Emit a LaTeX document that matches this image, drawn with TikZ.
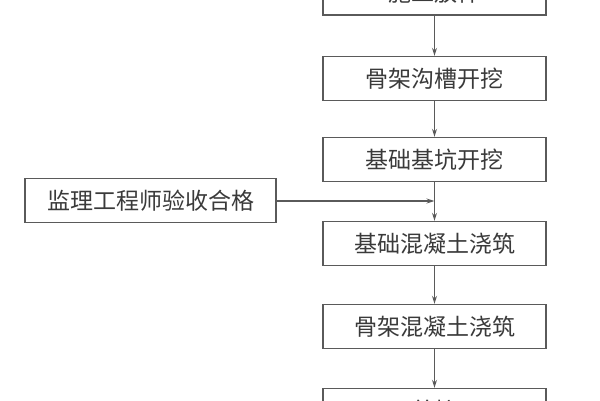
\documentclass[tikz,border=0pt]{standalone}
\usepackage{fontspec}
\newfontfamily\cjk{Noto Sans CJK SC}
\usetikzlibrary{arrows.meta}
\definecolor{linegray}{HTML}{5A5A5A}
\definecolor{textgray}{HTML}{3A3A3A}
\tikzset{
  stepbox/.style={draw=linegray, line width=1.4pt, fill=white, minimum width=223pt, minimum height=44pt, inner sep=0pt, font=\cjk\fontsize{23}{26}\selectfont, text=textgray},
  sidebox/.style={stepbox, minimum width=251pt},
  flow/.style={draw=linegray, line width=1.2pt, -{Stealth[length=8pt,width=5pt]}}
}
\begin{document}
\begin{tikzpicture}[x=1pt,y=-1pt]
\useasboundingbox (0,0) rectangle (600,400);
\clip (0,0) rectangle (600,400);
\node[stepbox] (b1) at (434.5,-7) {施工放样};
\node[stepbox] (b2) at (434.5,78.5) {骨架沟槽开挖};
\node[stepbox] (b3) at (434.5,159.5) {基础基坑开挖};
\node[stepbox] (b4) at (434.5,243.5) {基础混凝土浇筑};
\node[stepbox] (b5) at (434.5,326.5) {骨架混凝土浇筑};
\node[stepbox] (b6) at (434.5,410.5) {养护};
\node[sidebox] (s) at (150.5,200.5) {监理工程师验收合格};
\coordinate (j) at (434.5,201);
\draw[flow] (b1) -- (b2);
\draw[flow] (b2) -- (b3);
\draw[flow] (b3) -- (b4);
\draw[flow] (b4) -- (b5);
\draw[flow] (b5) -- (b6);
\draw[flow] (s.east |- j) -- (j);
\end{tikzpicture}
\end{document}
